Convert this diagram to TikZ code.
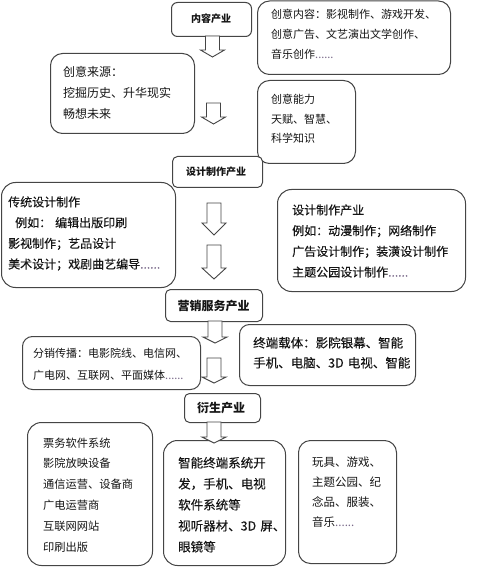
\documentclass[tikz,border=0pt]{standalone}
\usepackage{fontspec}
\setmainfont{Noto Sans CJK SC}
\newfontfamily\heavy[FakeBold=0.25]{Noto Sans CJK SC}
\definecolor{bordercol}{HTML}{454545}
\definecolor{txtcol}{HTML}{151515}
\definecolor{dotcol}{HTML}{7A6A8A}
\newcommand\fs[2]{\fontsize{#1}{#2}\selectfont}
\newcommand\mydots{\textcolor{dotcol}{......}}
\tikzset{
  box/.style={draw=bordercol, line width=1pt, rounded corners=#1, fill=white, inner sep=0pt, anchor=north west},
  txt/.style={text=txtcol, inner sep=0pt, anchor=base west, align=left, text width=220pt},
  hdr/.style={text=txtcol, inner sep=0pt, anchor=center, font=\bfseries},
  arr/.style={draw=bordercol, line width=0.9pt, fill=white, line join=miter}
}
\newcommand\bx[6]{\node[box=#6, minimum width={(#4-#2)*1pt}, minimum height={(#5-#3)*1pt}] (#1) at (#2,#3) {};}
\newcommand\blockarr[4]{\draw[arr] ({#1-7},#2) -- ({#1-7},#3) -- ({#1-12},#3) -- (#1,#4) -- ({#1+12},#3) -- ({#1+7},#3) -- ({#1+7},#2) -- cycle;}
\begin{document}
\begin{tikzpicture}[x=1pt,y=-1pt]
\useasboundingbox (0,0) rectangle (500,577);
% boxes
\bx{bcontent}{171}{2}{251}{36}{6}
\bx{bidea}{257}{0.5}{450}{74}{12}
\bx{bsource}{50}{53}{194}{133}{12}
\bx{bability}{257}{80}{355}{163}{12}
\bx{bdesign}{172}{156}{262}{187}{5}
\bx{btrad}{1}{182}{175}{287}{14}
\bx{bdesigntwo}{277}{189}{465}{291}{14}
\bx{bmarket}{165}{289}{262}{321}{5}
\bx{bdistrib}{22}{336}{200}{389}{10}
\bx{bterminal}{239}{324}{415}{385}{10}
\bx{bderiv}{184}{393}{260}{422}{5}
\bx{bticket}{27}{422}{152}{565}{14}
\bx{bsmart}{163}{440}{285}{565}{14}
\bx{btoys}{298}{440}{396}{563}{12}
% arrows
\blockarr{212.5}{36}{50}{57}
\blockarr{213.5}{103}{117}{124}
\blockarr{214}{203}{223}{235}
\blockarr{214}{245}{268}{279}
\blockarr{215}{321}{337}{343}
\blockarr{214}{358}{377}{383}
\blockarr{214}{422}{437}{443}
% header texts
\node[hdr, font=\bfseries\fs{10}{12}] (hcontent) at (211,19) {内容产业};
\node[hdr, font=\bfseries\fs{10}{12}] (hdesign) at (216,172) {设计制作产业};
\node[hdr, font=\bfseries\fs{12}{14}] (hmarket) at (213.5,306) {营销服务产业};
\node[hdr, font=\bfseries\fs{12}{14}] (hderiv) at (221,408) {衍生产业};
% box texts
\node[txt, font=\fs{11}{20}] (tidea) at (271,19) {创意内容：影视制作、游戏开发、\\创意广告、文艺演出文学创作、\\音乐创作\mydots};
\node[txt, font=\fs{12}{21}] (tsource) at (63,76.5) {创意来源：\\挖掘历史、升华现实\\畅想未来};
\node[txt, font=\fs{11}{19.5}] (tability) at (271,104) {创意能力\\天赋、智慧、\\科学知识};
\node[txt, font=\heavy\fs{12}{20.7}] (ttrad) at (8,206.5) {传统设计制作\\\hspace*{7pt}例如：\hspace{4pt}编辑出版印刷\\影视制作；艺品设计\\美术设计；戏剧曲艺编导\mydots};
\node[txt, font=\heavy\fs{12}{20.7}] (tdesigntwo) at (292,214.5) {设计制作产业\\例如：动漫制作；网络制作\\广告设计制作；装潢设计制作\\主题公园设计制作\mydots};
\node[txt, font=\fs{11}{22}] (tdistrib) at (33,357) {分销传播：电影院线、电信网、\\广电网、互联网、平面媒体\mydots};
\node[txt, font=\heavy\fs{12.5}{20}] (tterminal) at (253,347.5) {终端载体：影院银幕、智能\\手机、电脑、3D 电视、智能};
\node[txt, font=\fs{11.25}{20.8}] (tticket) at (43,447) {票务软件系统\\影院放映设备\\通信运营、设备商\\广电运营商\\互联网网站\\印刷出版};
\node[txt, font=\heavy\fs{12.5}{21}] (tsmart) at (178,467.5) {智能终端系统开\\发，手机、电视\\软件系统等\\视听器材、3D 屏、\\眼镜等};
\node[txt, font=\fs{11.5}{20}] (ttoys) at (312,466) {玩具、游戏、\\主题公园、纪\\念品、服装、\\音乐\mydots};
\end{tikzpicture}
\end{document}
